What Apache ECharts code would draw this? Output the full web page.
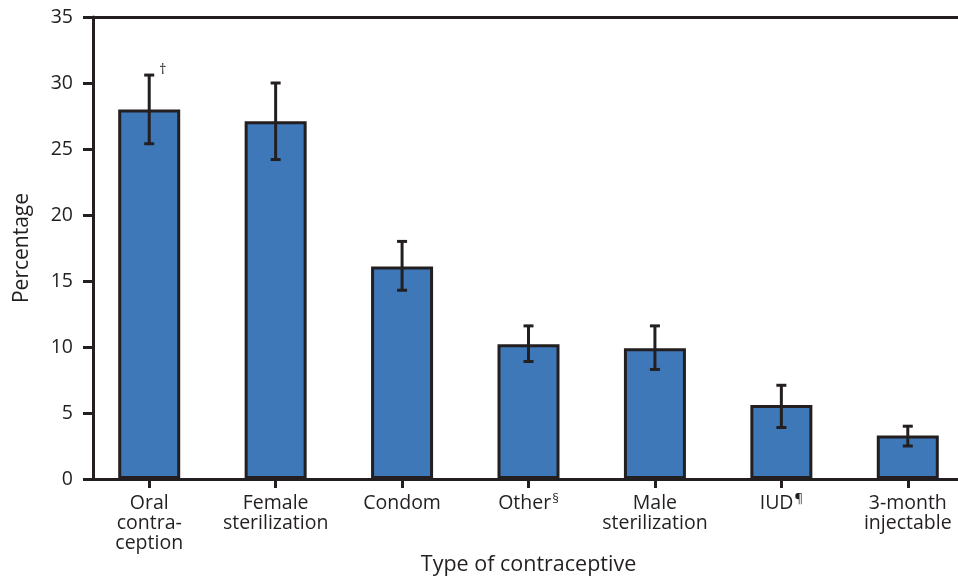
<!DOCTYPE html>
<html>
<head>
<meta charset="utf-8">
<script src="https://cdn.jsdelivr.net/npm/echarts@6/dist/echarts.min.js"></script>
<style>
  html, body { margin: 0; padding: 0; background: #fff; }
  #chart { width: 958px; height: 578px; }
</style>
</head>
<body>
<div id="chart"></div>
<script>
// Contraceptive method categories (label text, with optional superscript note)
const categories = ['Oral\ncontra-\nception', 'Female\nsterilization', 'Condom', 'Other', 'Male\nsterilization', 'IUD', '3-month\ninjectable'];
const categoryNotes = ['', '', '', '§', '', '¶', ''];
// Percentage using each method, with 95% confidence bounds
const percentages = [28.0, 27.1, 16.1, 10.2, 9.9, 5.6, 3.3];
const lowerBounds = [25.4, 24.2, 14.3, 8.9, 8.3, 3.9, 2.5];
const upperBounds = [30.6, 30.0, 18.0, 11.6, 11.6, 7.1, 4.0];
// Footnote marks shown beside an error bar
const barNotes = ['†', '', '', '', '', '', ''];
const yTicks = [0, 5, 10, 15, 20, 25, 30, 35];

const INK = '#231f20';
const FONT = 'Open Sans';

const chart = echarts.init(document.getElementById('chart'), null, { renderer: 'canvas' });

const errorData = categories.map((c, i) => [i, lowerBounds[i], upperBounds[i], barNotes[i]]);

chart.setOption({
  animation: false,
  backgroundColor: '#ffffff',
  textStyle: { fontFamily: FONT, color: INK },
  grid: { left: 86, right: -13, top: 17, bottom: 99, containLabel: false, outerBoundsMode: 'none' },
  xAxis: [{
    type: 'category',
    data: categories,
    position: 'bottom',
    name: 'Type of contraceptive',
    nameLocation: 'middle',
    nameGap: 75,
    nameMoveOverlap: false,
    nameTextStyle: { fontFamily: FONT, fontSize: 21.5, color: INK },
    axisLine: { show: true, lineStyle: { color: INK, width: 3 } },
    axisTick: { show: true, alignWithLabel: true, length: 9, lineStyle: { color: INK, width: 3 } },
    axisLabel: {
      interval: 0,
      margin: 14,
      fontFamily: FONT,
      fontSize: 19.5,
      lineHeight: 20,
      color: INK,
      formatter: function (value, idx) {
        const note = categoryNotes[idx];
        return note ? value + '{sup|' + note + '}' : value;
      },
      rich: {
        sup: { fontFamily: FONT, fontSize: 13, color: INK, verticalAlign: 'top', padding: [0, 0, 9, 1] }
      }
    }
  }, {
    type: 'category',
    data: categories,
    position: 'top',
    axisLine: { show: true, lineStyle: { color: INK, width: 3 } },
    axisTick: { show: false },
    axisLabel: { show: false }
  }],
  yAxis: {
    type: 'value',
    min: yTicks[0],
    max: yTicks[yTicks.length - 1],
    interval: 5,
    offset: -7,
    name: 'Percentage',
    nameLocation: 'middle',
    nameGap: 60,
    nameRotate: 90,
    nameTextStyle: { fontFamily: FONT, fontSize: 21, color: INK },
    axisLine: { show: true, lineStyle: { color: INK, width: 3 } },
    axisTick: { show: true, length: 10, lineStyle: { color: INK, width: 3 } },
    axisLabel: { fontFamily: FONT, fontSize: 19.5, color: INK, margin: 20 },
    splitLine: { show: false }
  },
  series: [{
    type: 'bar',
    data: percentages,
    barWidth: 62,
    itemStyle: { color: '#3f78b9', borderColor: INK, borderWidth: 3 },
    z: 2
  }, {
    type: 'custom',
    data: errorData,
    z: 5,
    renderItem: function (params, api) {
      const x = api.value(0);
      const lo = api.coord([x, api.value(1)]);
      const hi = api.coord([x, api.value(2)]);
      const half = 5;
      const style = { stroke: INK, lineWidth: 3 };
      const children = [
        { type: 'line', shape: { x1: hi[0], y1: hi[1], x2: lo[0], y2: lo[1] }, style: style },
        { type: 'line', shape: { x1: hi[0] - half, y1: hi[1], x2: hi[0] + half, y2: hi[1] }, style: style },
        { type: 'line', shape: { x1: lo[0] - half, y1: lo[1], x2: lo[0] + half, y2: lo[1] }, style: style }
      ];
      const note = api.value(3);
      if (note) {
        children.push({
          type: 'text',
          style: { text: note, x: hi[0] + 10, y: hi[1] - 12, fill: INK, font: '14px "' + FONT + '"' }
        });
      }
      return { type: 'group', children: children };
    }
  }]
});
</script>
</body>
</html>
